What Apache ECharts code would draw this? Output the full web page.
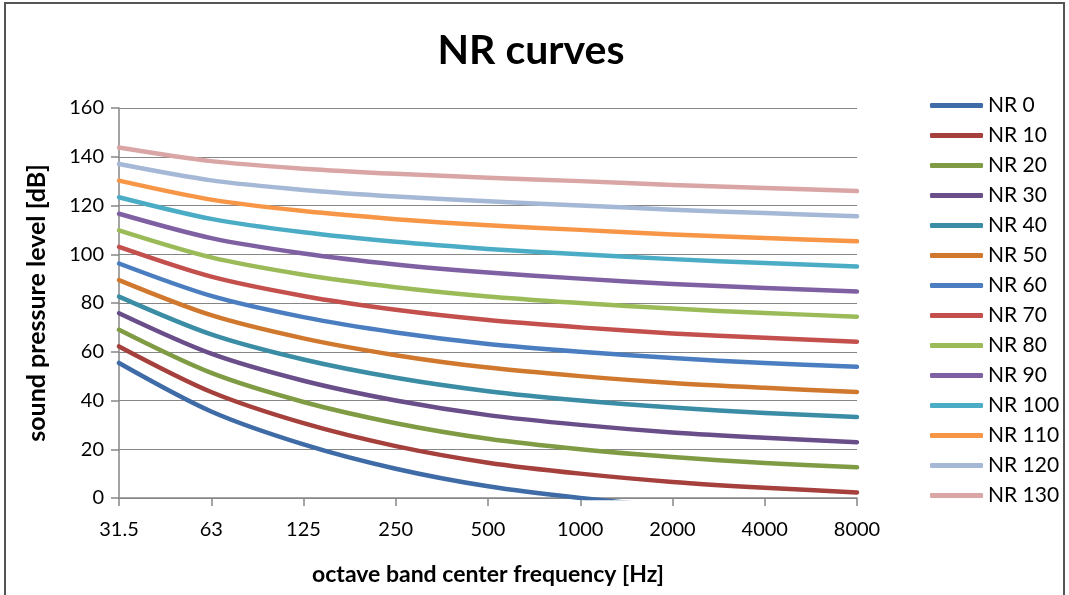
<!DOCTYPE html>
<html>
<head>
<meta charset="utf-8">
<script src="https://cdn.jsdelivr.net/npm/echarts@6/dist/echarts.min.js"></script>
<style>
  html, body { margin: 0; padding: 0; background: #fff; overflow: hidden; width: 1069px; height: 595px; }
  #frame { position: absolute; left: 4px; top: 2px; width: 1061px; height: 593px; border: 2px solid #555; border-bottom: none; box-sizing: border-box; pointer-events: none; }
  #chart { position: absolute; left: 0; top: 0; width: 1069px; height: 595px; }
</style>
</head>
<body>
<div id="chart"></div>
<div id="frame"></div>
<script>
const categories = ['31.5', '63', '125', '250', '500', '1000', '2000', '4000', '8000'];
const seriesNames = ['NR 0', 'NR 10', 'NR 20', 'NR 30', 'NR 40', 'NR 50', 'NR 60', 'NR 70', 'NR 80', 'NR 90', 'NR 100', 'NR 110', 'NR 120', 'NR 130'];
const nr0   = [55.4, 35.5, 22.0, 12.0, 4.8, 0, -3.5, -6.1, -8.0];
const nr10  = [62.2, 43.5, 30.7, 21.3, 14.5, 10, 6.6, 4.2, 2.3];
const nr20  = [69.0, 51.3, 39.4, 30.7, 24.3, 20, 16.8, 14.4, 12.6];
const nr30  = [75.8, 59.2, 48.1, 40.0, 34.0, 30, 26.9, 24.7, 22.9];
const nr40  = [82.6, 67.1, 56.8, 49.3, 43.8, 40, 37.1, 34.9, 33.2];
const nr50  = [89.4, 75.0, 65.5, 58.6, 53.5, 50, 47.2, 45.2, 43.5];
const nr60  = [96.2, 82.9, 74.2, 67.9, 63.2, 60, 57.4, 55.4, 53.8];
const nr70  = [103.0, 90.8, 82.9, 77.2, 73.0, 70, 67.5, 65.7, 64.1];
const nr80  = [109.8, 98.7, 91.6, 86.5, 82.7, 80, 77.7, 75.9, 74.4];
const nr90  = [116.6, 106.6, 100.3, 95.8, 92.5, 90, 87.8, 86.2, 84.7];
const nr100 = [123.4, 114.5, 109.0, 105.1, 102.2, 100, 98.0, 96.4, 95.0];
const nr110 = [130.2, 122.4, 117.7, 114.4, 111.9, 110, 108.1, 106.7, 105.3];
const nr120 = [137.0, 130.3, 126.4, 123.7, 121.7, 120, 118.3, 116.9, 115.6];
const nr130 = [143.8, 138.2, 135.1, 133.0, 131.4, 130, 128.4, 127.2, 125.9];
const seriesData = [nr0, nr10, nr20, nr30, nr40, nr50, nr60, nr70, nr80, nr90, nr100, nr110, nr120, nr130];
const colors = ['#3F6CA6', '#A5403D', '#7F9C45', '#694E8A', '#3A8DA4', '#D0792E',
                '#4A7EC0', '#C4504D', '#9BBB59', '#7F60A3', '#4BACC6', '#F79646', '#A5B8D6', '#D9A5A5'];
const yTicks = { min: 0, max: 160, interval: 20 };

const FONT = 'Lato, "Open Sans", sans-serif';
const chart = echarts.init(document.getElementById('chart'), null, { renderer: 'canvas' });
chart.setOption({
  animation: false,
  backgroundColor: '#fff',
  color: colors,
  title: {
    text: 'NR curves',
    left: 531, top: 30, textAlign: 'center', padding: 0,
    textStyle: { fontFamily: FONT, fontWeight: 'bold', fontSize: 41, color: '#000' }
  },
  grid: { left: 119, right: 212, top: 108, bottom: 97, containLabel: false, outerBoundsMode: 'none' },
  legend: {
    orient: 'vertical',
    left: 930, top: 95, padding: 0,
    itemWidth: 53, itemHeight: 5, itemGap: 9.0,
    icon: 'roundRect',
    data: seriesNames,
    textStyle: { fontFamily: FONT, fontSize: 21, color: '#000' }
  },
  xAxis: {
    type: 'category',
    data: categories,
    boundaryGap: false,
    name: 'octave band center frequency [Hz]',
    nameLocation: 'middle',
    nameGap: 65,
    nameTextStyle: { fontFamily: FONT, fontWeight: 'bold', fontSize: 23, color: '#000' },
    axisLine: { show: true, lineStyle: { color: '#868686', width: 1.5 } },
    axisTick: { show: true, length: 8, inside: false, interval: 0, lineStyle: { color: '#868686', width: 1.5 } },
    axisLabel: { fontFamily: FONT, fontSize: 20, color: '#000', margin: 22, interval: 0 },
    splitLine: { show: false }
  },
  yAxis: {
    type: 'value',
    min: yTicks.min, max: yTicks.max, interval: yTicks.interval,
    name: 'sound pressure level [dB]',
    nameLocation: 'middle',
    nameGap: 70,
    nameTextStyle: { fontFamily: FONT, fontWeight: 'bold', fontSize: 25, color: '#000' },
    axisLine: { show: true, lineStyle: { color: '#868686', width: 1.5 } },
    axisTick: { show: true, length: 8, inside: false, lineStyle: { color: '#868686', width: 1.5 } },
    axisLabel: { fontFamily: FONT, fontSize: 20, color: '#000', margin: 15 },
    splitLine: { show: true, lineStyle: { color: '#868686', width: 1.2 } }
  },
  series: seriesNames.map((name, i) => ({
    name: name,
    type: 'line',
    data: seriesData[i],
    smooth: 0.3,
    clip: true,
    showSymbol: false,
    symbol: 'none',
    lineStyle: { width: 4.5, color: colors[i], cap: 'round', join: 'round' },
    itemStyle: { color: colors[i] },
    emphasis: { disabled: true }
  }))
});
</script>
</body>
</html>
